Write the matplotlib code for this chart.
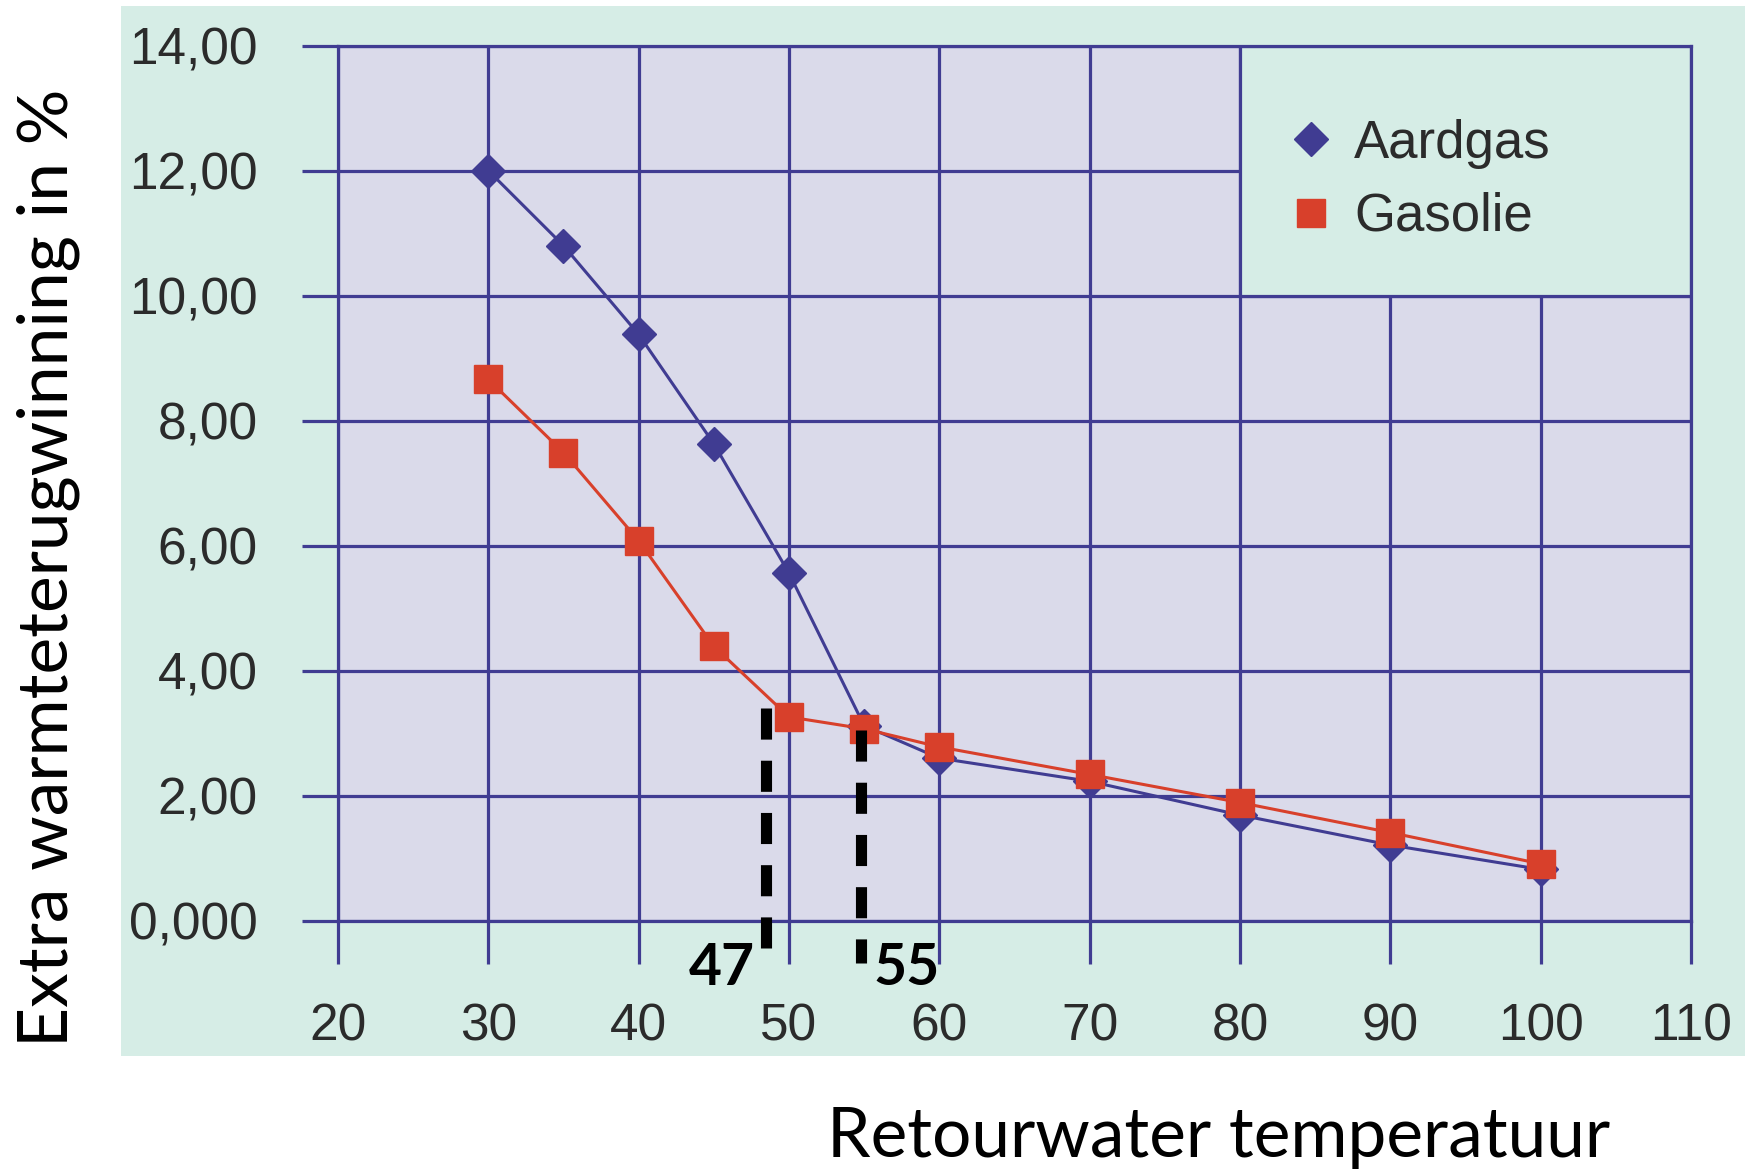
import matplotlib
matplotlib.use("Agg")
import matplotlib.pyplot as plt
from matplotlib.patches import Rectangle

# ---- data ----
temps_gas = [30, 35, 40, 45, 50, 55, 60, 70, 80, 90, 100]
aardgas = [12.0, 10.80, 9.38, 7.63, 5.56, 3.12, 2.60, 2.23, 1.69, 1.21, 0.82]
temps_oil = [30, 35, 40, 45, 50, 55, 60, 70, 80, 90, 100]
gasolie = [8.66, 7.49, 6.08, 4.39, 3.26, 3.07, 2.78, 2.34, 1.89, 1.41, 0.91]

x_ticks = [20, 30, 40, 50, 60, 70, 80, 90, 100, 110]
x_ticklabels = ["20", "30", "40", "50", "60", "70", "80", "90", "100", "110"]
y_ticks = [0, 2, 4, 6, 8, 10, 12, 14]
y_ticklabels = ["0,000", "2,00", "4,00", "6,00", "8,00", "10,00", "12,00", "14,00"]

# annotation markers (dashed lines) : x position, top, bottom
mark_x = [48.45, 54.77]
mark_top = [3.40, 3.05]
mark_bottom = [-0.44, -0.68]
mark_labels = ["47", "55"]
mark_label_x = [45.55, 57.8]
mark_label_y = [-0.77, -0.77]

series_names = ["Aardgas", "Gasolie"]

# ---- style ----
BLUE = "#403c92"
RED = "#d8402b"
LAV = "#dadaea"
GREEN = "#d6ede6"
TICK = "#2b2b2b"
GRID_LW = 2.3

fig = plt.figure(figsize=(17.45, 11.70), dpi=100)
fig.patch.set_facecolor("white")

# green background panel
fig.patches.append(Rectangle((0.0693, 0.0974), 1 - 0.0693, 0.8975,
                             transform=fig.transFigure, facecolor=GREEN,
                             edgecolor="none", zorder=-10))

ax = fig.add_axes([0.1937, 0.2131, 0.7753, 0.7479])
ax.set_zorder(1)
ax.set_facecolor(LAV)
ax.set_xlim(20, 110)
ax.set_ylim(0, 14)
ax.set_axisbelow(True)
ax.grid(True, color=BLUE, lw=GRID_LW)
for s in ax.spines.values():
    s.set_color(BLUE)
    s.set_linewidth(GRID_LW)

ax.set_xticks(x_ticks)
ax.set_xticklabels(x_ticklabels, fontfamily="Liberation Sans", fontsize=37, color=TICK)
ax.set_yticks(y_ticks)
ax.set_yticklabels(y_ticklabels, fontfamily="Liberation Sans", fontsize=37, color=TICK)
ax.tick_params(axis="x", direction="out", length=31, width=GRID_LW, color=BLUE, pad=28)
ax.tick_params(axis="y", direction="out", length=26, width=GRID_LW, color=BLUE, pad=32)
ax.yaxis.get_major_ticks()[-1].tick1line.set_color("black")

# legend panel covering the grid
ax.add_patch(Rectangle((80, 10), 30, 4, facecolor=GREEN, edgecolor=BLUE,
                       lw=GRID_LW, zorder=1))

ax.plot(temps_gas, aardgas, color=BLUE, lw=2.2, marker="D", ms=17,
        mfc=BLUE, mec=BLUE, zorder=3, label=series_names[0])
ax.plot(temps_oil, gasolie, color=RED, lw=2.2, marker="s", ms=20,
        mfc=RED, mec=RED, zorder=3.5, label=series_names[1])

for xm, yt, yb in zip(mark_x, mark_top, mark_bottom):
    ax.plot([xm, xm], [yt, yb], color="black", lw=8, linestyle=(0, (2.8, 1.9)),
            clip_on=False, zorder=5, solid_capstyle="butt", dash_capstyle="butt")
for lx, ly, lt in zip(mark_label_x, mark_label_y, mark_labels):
    ax.text(lx, ly, lt, fontfamily="Lato", fontweight="bold", fontsize=41,
            color="black", ha="center", va="center", clip_on=False, zorder=6)

handles, labels = ax.get_legend_handles_labels()
leg = ax.legend(handles, labels, loc="upper left", bbox_to_anchor=(82.97, 12.83),
                bbox_transform=ax.transData, frameon=False, borderpad=0,
                borderaxespad=0, handlelength=1.0, handletextpad=0.32,
                labelspacing=0.44, prop={"family": "Liberation Sans", "size": 38})
for h in leg.legend_handles:
    h.set_linestyle("none")
for t in leg.get_texts():
    t.set_color(TICK)
leg.set_zorder(7)

fig.text(48 / 1745, 1 - 568 / 1170, "Extra warmteterugwinning in %", rotation=90,
         fontfamily="Lato", fontsize=50, color="black", ha="center", va="center")
fig.text(1219 / 1745, 1 - 1157 / 1170, "Retourwater temperatuur",
         fontfamily="Lato", fontsize=50, color="black", ha="center", va="baseline")

fig.savefig("out.png", dpi=100, facecolor="white")
